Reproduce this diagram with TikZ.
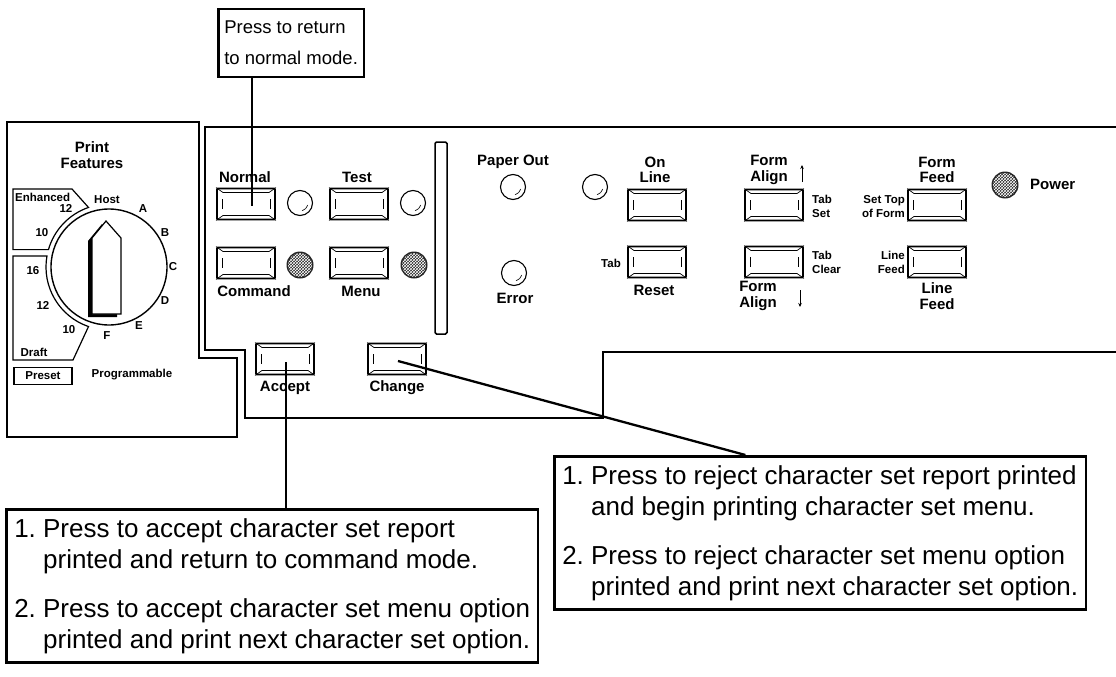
\documentclass[tikz,border=0pt]{standalone}
\usepackage{fontspec}
\setmainfont{Liberation Sans}
\usetikzlibrary{calc,patterns,arrows.meta}
\begin{document}
\begin{tikzpicture}[x=1pt,y=-1pt,
  panel/.style={line width=2.8pt, line join=miter},
  btn/.style={draw, line width=1.8pt, rounded corners=1pt, minimum width=58pt, minimum height=31pt, inner sep=0pt},
  led/.style={draw, line width=1.1pt, circle, minimum size=25pt, inner sep=0pt},
  dled/.style={circle, minimum size=27pt, inner sep=0pt, fill=black!85},
  lab/.style={font=\fontsize{15}{15.5}\selectfont\bfseries, inner sep=0pt, align=center},
  slab/.style={font=\fontsize{11.5}{14}\selectfont\bfseries, inner sep=0pt, align=center},
  callout/.style={draw, line width=2.5pt, align=left, inner xsep=8pt, inner ysep=9pt, fill=white, font=\fontsize{26}{31}\selectfont},
  conn/.style={line width=2.3pt},
  arr/.style={line width=0.9pt, -{Stealth[length=4pt,width=3.5pt]}}
]
\useasboundingbox (0,0) rectangle (1116,677);

\newcommand\kbtn[2]{%
  \node[btn] (#1) at (#2) {};
  \draw[line width=0.7pt] ($(#1.north west)+(7,5)$) -- ($(#1.north east)+(-7,5)$);
  \draw[line width=1.4pt] ($(#1.south west)+(7,-5)$) -- ($(#1.south east)+(-7,-5)$);
  \draw[line width=0.7pt] (#1.north west) -- ($(#1.north west)+(7,5)$)
     (#1.north east) -- ($(#1.north east)+(-7,5)$)
     (#1.south west) -- ($(#1.south west)+(7,-5)$)
     (#1.south east) -- ($(#1.south east)+(-7,-5)$);
  \draw[line width=0.6pt] ($(#1.west)+(6,-5)$) -- ($(#1.west)+(6,5)$)
     ($(#1.east)+(-6,-5)$) -- ($(#1.east)+(-6,5)$);
}
\newcommand\wled[2]{%
  \node[led] (#1) at (#2) {};
  \draw[line width=0.6pt] (#1.center) ++(15:8) arc[start angle=15, end angle=75, radius=8];
}
\newcommand\dkled[2]{%
  \node[dled] (#1) at (#2) {};
  \fill[pattern=crosshatch, pattern color=white] (#1.center) circle (12);
}

% ---------- left panel ----------
\draw[panel] (7,122) -- (199,122) -- (199,358) -- (237,358) -- (237,437) -- (7,437) -- cycle;
\node[lab] (print) at (92,155) {Print\\Features};

\coordinate (dc) at (109,267);
\draw[line width=1.2pt] (13,189) -- (72,189) -- ($(dc)+(-109:63)$)
   arc[start angle=-109, end angle=-164, radius=63] -- (13,249.6) -- cycle;
\draw[line width=1.2pt] (13,256) -- ($(dc)+(-170:63)$)
   arc[start angle=-170, end angle=-251, radius=63] -- (73,360) -- (13,360) -- cycle;
\draw[line width=1.4pt] (dc) circle (58);
\fill[black] (88,241) -- (102,224) -- (117,241) -- (117,317) -- (88,317) -- cycle;
\draw[line width=1.2pt, fill=white] (92,238) -- (106,221) -- (121,238) -- (121,314) -- (92,314) -- cycle;

\node[slab] (host) at (107,200) {Host};
\node[slab] (dA) at (143,209) {A};
\node[slab] (dB) at (165,233) {B};
\node[slab] (dC) at (173,267) {C};
\node[slab] (dD) at (165,301) {D};
\node[slab] (dE) at (139,326) {E};
\node[slab] (dF) at (107,336) {F};
\node[slab, anchor=west] (enh) at (15,197) {Enhanced};
\node[slab] (e12) at (66,208) {12};
\node[slab] (e10) at (42,233) {10};
\node[slab] (d16) at (33,271) {16};
\node[slab] (d12) at (43,305) {12};
\node[slab] (d10) at (69,330) {10};
\node[slab] (draft) at (34,352) {Draft};
\node[slab, draw, line width=1.2pt, minimum width=58pt, minimum height=17pt] (preset) at (43,376) {Preset};
\node[slab] (prog) at (132,375) {Programmable};

% ---------- main panel ----------
\draw[panel] (1116,127) -- (205,127) -- (205,350) -- (245,350) -- (245,418) -- (603,418) -- (603,352) -- (1116,352);
\draw[line width=1.5pt, rounded corners=1.5pt] (435,142) rectangle (447,334);

\kbtn{normal}{246,204}
\kbtn{test}{359,204}
\kbtn{command}{246,263}
\kbtn{menu}{359,263}
\kbtn{accept}{285,359}
\kbtn{change}{397,359}
\kbtn{online}{657,205}
\kbtn{tabreset}{657,262}
\kbtn{formup}{774,205}
\kbtn{tabclear}{774,262}
\kbtn{formfeed}{937,205}
\kbtn{linefeed}{937,262}

\wled{ledN}{300,203}
\wled{ledT}{413,203}
\wled{ledP}{513,187}
\wled{ledO}{595,187}
\wled{ledE}{514,273}
\dkled{ledC}{300,265}
\dkled{ledM}{414,265}
\dkled{ledPw}{1005,185}

\node[lab] (lNormal) at (245,177) {Normal};
\node[lab] (lTest) at (357,177) {Test};
\node[lab] (lCommand) at (254,291) {Command};
\node[lab] (lMenu) at (361,291) {Menu};
\node[lab] (lAccept) at (285,388) {Accept};
\node[lab] (lChange) at (397,388) {Change};
\node[lab] (lPaper) at (513,162) {Paper Out};
\node[lab] (lOnLine) at (655,170) {On\\Line};
\node[lab] (lFormUp) at (769,170) {Form\\Align};
\draw[arr] (802,182) -- (802,165);
\node[lab] (lFormFeed) at (937,170) {Form\\Feed};
\node[lab, anchor=west] (lPower) at (1030,184) {Power};
\node[slab, align=left, anchor=west] (lTabSet) at (812,206) {Tab\\Set};
\node[slab, align=right, anchor=east] (lSetTop) at (905,207) {Set Top\\of Form};
\node[slab, anchor=east] (lTab) at (621,263) {Tab};
\node[lab] (lReset) at (654,290) {Reset};
\node[lab] (lError) at (515,298) {Error};
\node[slab, align=left, anchor=west] (lTabClear) at (812,262) {Tab\\Clear};
\node[lab] (lFormDn) at (758,296) {Form\\Align};
\draw[arr] (800,290) -- (800,307);
\node[slab, align=right, anchor=east] (lLineFeedL) at (905,262) {Line\\Feed};
\node[lab] (lLineFeed) at (937,296) {Line\\Feed};

% ---------- callouts ----------
\node[callout, anchor=north west, font=\fontsize{18.5}{31}\selectfont, inner xsep=6pt, inner ysep=12pt] (tcall) at (217,8) {Press to return\\to normal mode.};
\node[callout, anchor=north west] (lbox) at (5,508) {1.~Press to accept character set report\\\hphantom{1.~}printed and return to command mode.\\[18pt]2.~Press to accept character set menu option\\\hphantom{1.~}printed and print next character set option.};
\node[callout, anchor=north west] (rbox) at (553,455) {1.~Press to reject character set report printed\\\hphantom{1.~}and begin printing character set menu.\\[18pt]2.~Press to reject character set menu option\\\hphantom{1.~}printed and print next character set option.};

\coordinate (normTip) at (252,206);
\draw[conn] (tcall.south -| normTip) -- (normTip);
\coordinate (accTip) at (286,362);
\draw[conn] (accTip) -- (accTip |- lbox.north);
\coordinate (chgTip) at (398,361);
\draw[conn] (chgTip) -- ($(rbox.north west)!0.36!(rbox.north east)$);
\end{tikzpicture}
\end{document}
